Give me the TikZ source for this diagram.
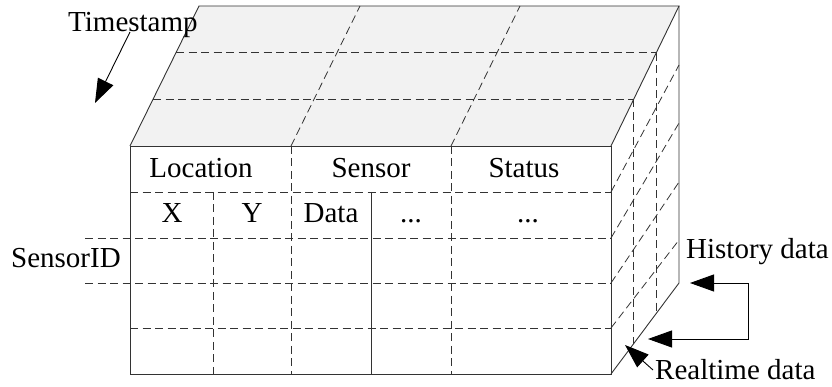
\documentclass[tikz,border=0pt]{standalone}
\usepackage{fontspec}
\setmainfont{Liberation Serif}
\usetikzlibrary{arrows.meta,calc}
\definecolor{topgray}{RGB}{242,242,242}

\begin{document}
\begin{tikzpicture}[
    x=1pt, y=1pt,
    every node/.style={inner sep=0pt, font=\fontsize{29}{33}\selectfont},
    edge line/.style={draw=black!80, line width=0.9pt},
    grid line/.style={draw=black!80, line width=0.8pt, dash pattern=on 8pt off 4.5pt},
    big arrow/.style={draw=black, line width=0.9pt, -{Triangle[length=24pt,width=17pt]}},
    both arrow/.style={draw=black, line width=0.9pt, {Triangle[length=24pt,width=17pt]}-{Triangle[length=24pt,width=17pt]}},
    ]
\useasboundingbox (0,0) rectangle (832,387);
% corners of the block
\coordinate (F1) at (130,241);
\coordinate (F2) at (611,241);
\coordinate (F3) at (611,13);
\coordinate (F4) at (130,13);
\coordinate (B1) at (199,381);
\coordinate (B2) at (679,381);
\coordinate (B3) at (679,104);
% top face
\fill[topgray] (F1) -- (B1) -- (B2) -- (F2) -- cycle;
\draw[grid line] ($(F1)!1/3!(B1)$) -- ($(F2)!1/3!(B2)$);
\draw[grid line] ($(F1)!2/3!(B1)$) -- ($(F2)!2/3!(B2)$);
\foreach \x in {291,451}
    \draw[grid line] (\x,241) -- ++(69,140);
% side face
\draw[grid line] ($(F2)!1/3!(B2)$) -- ($(F3)!1/3!(B3)$);
\draw[grid line] ($(F2)!2/3!(B2)$) -- ($(F3)!2/3!(B3)$);
\foreach \a/\b in {195/322,149/264,104/205,59/147}
    \draw[grid line] (611,\a) -- (679,\b);
% front face rows and columns
\foreach \y in {195,59}
    \draw[grid line] (130,\y) -- (611,\y);
\foreach \y in {149,104}
    \draw[grid line] (85,\y) -- (611,\y);
\draw[grid line] (213,195) -- (213,13);
\draw[grid line] (291,241) -- (291,13);
\draw[grid line] (451,241) -- (451,13);
\draw[edge line] (371,195) -- (371,13);
% outline
\draw[edge line] (F4) rectangle (F2);
\draw[edge line] (F1) -- (B1) -- (B2) -- (F2);
\draw[edge line] (B2) -- (B3) -- (F3);
% headers
\node[anchor=base] (location) at (201,209) {Location};
\node[anchor=base] (sensor) at (371,209) {Sensor};
\node[anchor=base] (status) at (524,209) {Status};
\node[anchor=base] (colX) at (172,164) {X};
\node[anchor=base] (colY) at (252,164) {Y};
\node[anchor=base] (data) at (331,164) {Data};
\node[anchor=base] (dotsA) at (411,164) {...};
\node[anchor=base] (dotsB) at (528,164) {...};
% axis labels
\node[anchor=base west] (timestamp) at (68,355) {Timestamp};
\node[anchor=base west] (sensorid) at (11,119) {SensorID};
\node[anchor=base west] (history) at (686,128) {History data};
\node[anchor=base west] (realtime) at (655,7) {Realtime data};
% arrows
\coordinate (tsFrom) at (130,355);
\coordinate (tsTo) at (95,284);
\draw[big arrow] (tsFrom) -- (tsTo);
\coordinate (hTop) at (690,104);
\coordinate (hBot) at (648,48);
\draw[both arrow] (hBot) -- ++(100,0) |- (hTop);
\coordinate (rtFrom) at (653,17);
\coordinate (rtTo) at (625,42);
\draw[big arrow] (rtFrom) -- (rtTo);
\end{tikzpicture}
\end{document}
